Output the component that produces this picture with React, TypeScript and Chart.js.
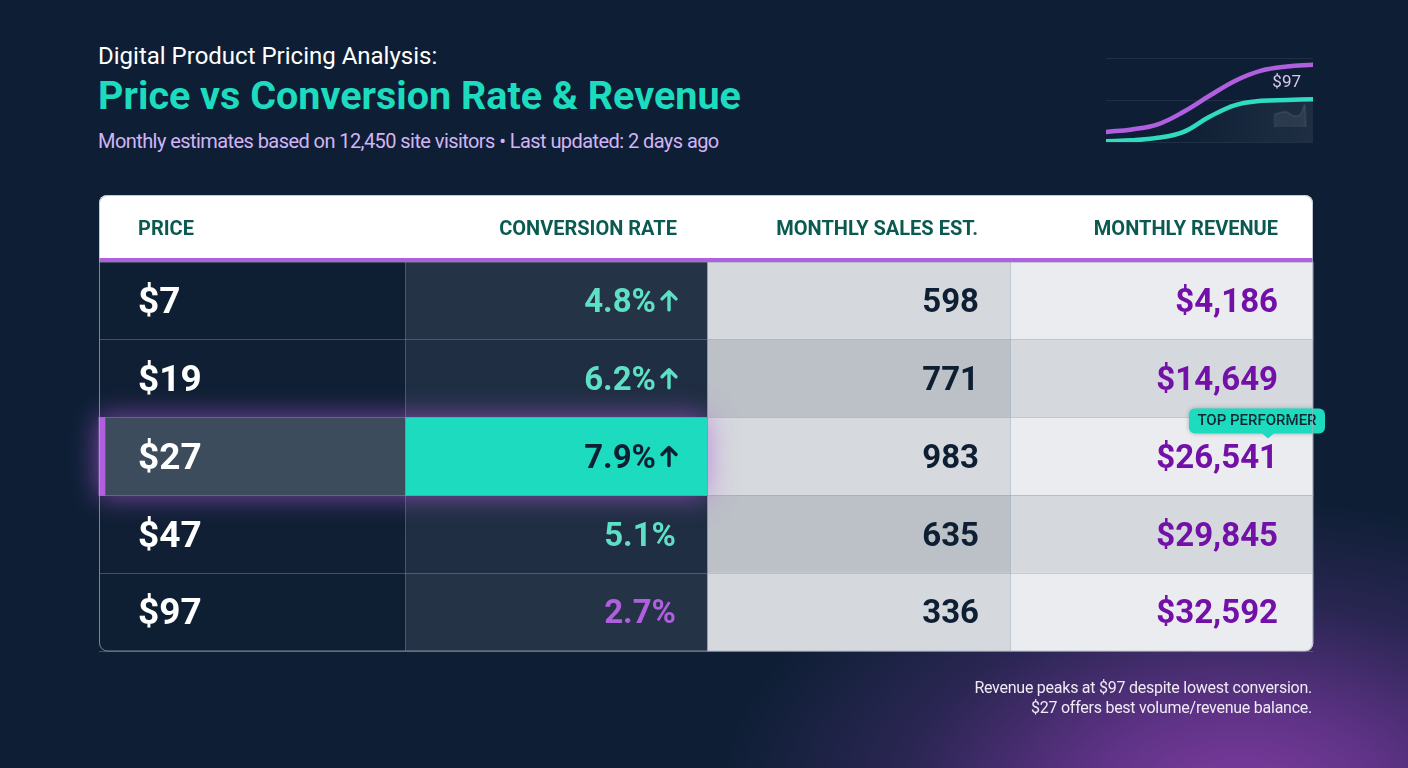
import React, { useEffect, useRef } from "react";
import { Chart, registerables } from "chart.js";

Chart.register(...registerables);

const HEADERS = ["PRICE", "CONVERSION RATE", "MONTHLY SALES EST.", "MONTHLY REVENUE"];
const PRICES = ["$7", "$19", "$27", "$47", "$97"];
const CONVERSION = [4.8, 6.2, 7.9, 5.1, 2.7];
const TREND_UP = [true, true, true, false, false];
const SALES = [598, 771, 983, 635, 336];
const REVENUE = [4186, 14649, 26541, 29845, 32592];
const COLUMN_EDGES = [0, 306, 608, 911, 1214];
const HIGHLIGHT_ROW = 2;
const TAG_TEXT = "TOP PERFORMER";

const SPARK_X = [0, 12.5, 25, 37.5, 50, 62.5, 75, 87.5, 100];
const SPARK_REVENUE = [12, 15, 21, 36, 55, 73, 85, 90, 92];
const SPARK_CONVERSION = [1, 2, 5, 12, 30, 44, 49, 50, 51];
const SPARK_LABEL = "$97";
const GHOST_X = [81.5, 81.5, 84, 87, 91, 94, 96, 96.5];
const GHOST_Y = [18, 32, 35, 36, 31, 33, 44, 18];

const PURPLE = "#b05fdf";
const TEAL = "#1ddbbe";
const NAVY = "#0e1f33";
const COL1 = ["#0e1f33", "#101f34", "#3c4c5c", "#101f34", "#0e1f33"];
const COL2 = ["#243446", "#1f2e42", TEAL, "#1f2e42", "#243446"];
const COL3 = ["#d5d8dd", "#bcc0c7", "#d6d9dd", "#bcc0c7", "#d5d8dd"];
const COL4 = ["#ebecef", "#d5d8dd", "#ebecef", "#d5d8dd", "#ebecef"];
const CONV_COLORS = ["#5de0c5", "#5de0c5", "#0e1f33", "#5de0c5", "#b05fdf"];

const cell = (col: number, only?: number) =>
  PRICES.map((_, r) => (only === undefined || only === r ? [COLUMN_EDGES[col], COLUMN_EDGES[col + 1]] : null));

const tablePlugin = {
  id: "table",
  beforeDatasetDraw(chart: any, args: any) {
    if (chart.data.datasets[args.index].glow) {
      chart.ctx.shadowColor = "rgba(176,95,223,0.7)";
      chart.ctx.shadowBlur = 28;
    }
  },
  afterDatasetDraw(chart: any) {
    chart.ctx.shadowColor = "transparent";
    chart.ctx.shadowBlur = 0;
  },
  beforeDatasetsDraw(chart: any) {
    const { ctx, chartArea: a } = chart;
    ctx.save();
    ctx.fillStyle = "#ffffff";
    ctx.beginPath();
    ctx.roundRect(a.left, 195, a.right - a.left, 65, [8, 8, 0, 0]);
    ctx.fill();
    ctx.restore();
  },
  afterDatasetsDraw(chart: any) {
    const { ctx, chartArea: a, scales } = chart;
    const x = scales.x;
    const y = scales.y;
    ctx.save();
    ctx.fillStyle = PURPLE;
    ctx.fillRect(a.left, 258, a.right - a.left, 4);

    ctx.textBaseline = "middle";
    ctx.font = "700 20px Roboto";
    ctx.fillStyle = "#0b5a50";
    ctx.textAlign = "left";
    ctx.fillText(HEADERS[0], x.getPixelForValue(COLUMN_EDGES[0]) + 39, 229.5);
    ctx.textAlign = "right";
    ctx.fillText(HEADERS[1], x.getPixelForValue(COLUMN_EDGES[2]) - 30, 229.5);
    ctx.fillText(HEADERS[2], x.getPixelForValue(COLUMN_EDGES[3]) - 32, 229.5);
    ctx.fillText(HEADERS[3], x.getPixelForValue(COLUMN_EDGES[4]) - 35, 229.5);

    ctx.font = "700 33px Roboto";
    PRICES.forEach((_, r) => {
      const py = y.getPixelForValue(r) + 3;
      const color = CONV_COLORS[r];
      ctx.fillStyle = color;
      const colEnd = x.getPixelForValue(COLUMN_EDGES[2]);
      const up = TREND_UP[r];
      ctx.fillText(CONVERSION[r].toFixed(1) + "%", colEnd - (up ? 51 : 31), py);
      if (up) {
        const ax = colEnd - 38;
        const ay = py - 3;
        ctx.strokeStyle = color;
        ctx.lineWidth = 3.4;
        ctx.lineCap = "round";
        ctx.lineJoin = "round";
        ctx.beginPath();
        ctx.moveTo(ax, ay + 9);
        ctx.lineTo(ax, ay - 9);
        ctx.moveTo(ax - 7, ay - 2);
        ctx.lineTo(ax, ay - 9);
        ctx.lineTo(ax + 7, ay - 2);
        ctx.stroke();
      }
      ctx.fillStyle = NAVY;
      ctx.fillText(String(SALES[r]), x.getPixelForValue(COLUMN_EDGES[3]) - 31, py);
      ctx.fillStyle = "#7210a8";
      ctx.fillText("$" + REVENUE[r].toLocaleString("en-US"), x.getPixelForValue(COLUMN_EDGES[4]) - 35, py);
    });

    // top performer tag
    const tagRight = x.getPixelForValue(COLUMN_EDGES[4]) + 12;
    const tagY = y.getPixelForValue(HIGHLIGHT_ROW) - 48;
    ctx.save();
    ctx.shadowColor = "rgba(20,60,70,0.35)";
    ctx.shadowBlur = 4;
    ctx.fillStyle = TEAL;
    ctx.beginPath();
    ctx.roundRect(tagRight - 136, tagY, 136, 25, 6);
    ctx.fill();
    ctx.restore();
    ctx.fillStyle = TEAL;
    ctx.beginPath();
    ctx.moveTo(tagRight - 64, tagY + 24);
    ctx.lineTo(tagRight - 57, tagY + 30);
    ctx.lineTo(tagRight - 50, tagY + 24);
    ctx.fill();
    ctx.fillStyle = "#0a2530";
    ctx.font = "500 15px Roboto";
    ctx.textAlign = "center";
    ctx.fillText(TAG_TEXT, tagRight - 68, tagY + 13);

    // table outline
    ctx.strokeStyle = "rgba(165,178,192,0.7)";
    ctx.lineWidth = 1;
    ctx.beginPath();
    ctx.roundRect(a.left + 0.5, 195.5, a.right - a.left - 1, a.bottom - 195.5, 8);
    ctx.stroke();
    ctx.restore();
  },
};

const sparkPlugin = {
  id: "sparkLabel",
  afterDatasetsDraw(chart: any) {
    const { ctx, scales } = chart;
    ctx.save();
    ctx.font = "400 17px Roboto";
    ctx.fillStyle = "#d8c8f0";
    ctx.textAlign = "right";
    ctx.textBaseline = "middle";
    ctx.fillText(SPARK_LABEL, scales.x.getPixelForValue(100) - 12, scales.y.getPixelForValue(70));
    ctx.restore();
  },
};

export default function App() {
  const tableRef = useRef<HTMLCanvasElement>(null);
  const sparkRef = useRef<HTMLCanvasElement>(null);

  useEffect(() => {
    const barBase = { grouped: false, barPercentage: 1, categoryPercentage: 1, borderSkipped: false, clip: false };
    const table = new Chart(tableRef.current!, {
      type: "bar",
      data: {
        labels: PRICES,
        datasets: [
          { ...barBase, label: "col1", data: cell(0), backgroundColor: COL1, order: 5,
            borderRadius: (c: any) => (c.dataIndex === 4 ? { bottomLeft: 8 } : 0) },
          { ...barBase, label: "col2", data: cell(1), backgroundColor: COL2, order: 5 },
          { ...barBase, label: "col3", data: cell(2), backgroundColor: COL3, order: 5 },
          { ...barBase, label: "col4", data: cell(3), backgroundColor: COL4, order: 5,
            borderRadius: (c: any) => (c.dataIndex === 4 ? { bottomRight: 8 } : 0) },
          { ...barBase, label: "glow", glow: true, order: 3, backgroundColor: "#3c4c5c",
            data: PRICES.map((_, r) => (r === HIGHLIGHT_ROW ? [COLUMN_EDGES[0], COLUMN_EDGES[2]] : null)) },
          { ...barBase, label: "hl1", data: cell(0, HIGHLIGHT_ROW), backgroundColor: COL1, order: 2 },
          { ...barBase, label: "hl2", data: cell(1, HIGHLIGHT_ROW), backgroundColor: COL2, order: 2 },
          { ...barBase, label: "accent", order: 1, backgroundColor: PURPLE,
            data: PRICES.map((_, r) => (r === HIGHLIGHT_ROW ? [COLUMN_EDGES[0], COLUMN_EDGES[0] + 6] : null)) },
        ] as any,
      },
      options: {
        indexAxis: "y",
        animation: false,
        responsive: false,
        devicePixelRatio: 1,
        layout: { padding: { left: 99, right: 95, top: 262, bottom: 117 } },
        plugins: { legend: { display: false }, tooltip: { enabled: false } },
        scales: {
          x: {
            min: COLUMN_EDGES[0],
            max: COLUMN_EDGES[4],
            afterBuildTicks: (s: any) => {
              s.ticks = COLUMN_EDGES.slice(1, 4).map((value) => ({ value }));
            },
            ticks: { display: false },
            border: { display: false },
            grid: { z: 1, drawTicks: false, color: "rgba(140,155,170,0.4)" },
          },
          y: {
            afterFit: (s: any) => { s.width = 0; },
            border: { display: false },
            grid: { z: 1, drawTicks: false, offset: true, color: "rgba(140,155,170,0.4)" },
            ticks: {
              z: 2,
              mirror: true,
              padding: 39,
              labelOffset: 3,
              color: "#ffffff",
              font: { family: "Roboto", size: 37, weight: "bold" },
            },
          },
        },
      } as any,
      plugins: [tablePlugin],
    });

    const spark = new Chart(sparkRef.current!, {
      type: "line",
      data: {
        datasets: [
          {
            label: "ghost",
            data: GHOST_X.map((x, i) => ({ x, y: GHOST_Y[i] })),
            borderColor: "rgba(255,255,255,0.07)",
            borderWidth: 2,
            backgroundColor: "rgba(255,255,255,0.07)",
            fill: { value: 18 },
            pointRadius: 0,
            tension: 0.3,
          },
          {
            label: "Revenue",
            data: SPARK_X.map((x, i) => ({ x, y: SPARK_REVENUE[i] })),
            borderColor: PURPLE,
            borderWidth: 4.5,
            pointRadius: 0,
            tension: 0.4,
            borderCapStyle: "round",
          },
          {
            label: "Conversion",
            data: SPARK_X.map((x, i) => ({ x, y: SPARK_CONVERSION[i] })),
            borderColor: "#2fdcc0",
            borderWidth: 4.5,
            pointRadius: 0,
            backgroundColor: (c: any) => {
              const a = c.chart.chartArea;
              if (!a) return "rgba(255,255,255,0.04)";
              const g = c.chart.ctx.createLinearGradient(a.left, 0, a.right, 0);
              g.addColorStop(0.3, "rgba(255,255,255,0)");
              g.addColorStop(1, "rgba(255,255,255,0.07)");
              return g;
            },
            fill: "origin",
            tension: 0.4,
            borderCapStyle: "round",
          },
        ] as any,
      },
      options: {
        animation: false,
        responsive: false,
        devicePixelRatio: 1,
        layout: { padding: { left: 0, right: 0, top: 2, bottom: 2 } },
        plugins: { legend: { display: false }, tooltip: { enabled: false } },
        scales: {
          x: { type: "linear", min: 0, max: 100, display: false },
          y: {
            min: 0,
            max: 100,
            afterFit: (s: any) => { s.width = 0; },
            ticks: { display: false, stepSize: 50 },
            border: { display: false },
            grid: { drawTicks: false, color: "rgba(255,255,255,0.08)" },
          },
        },
      } as any,
      plugins: [sparkPlugin],
    });

    return () => {
      table.destroy();
      spark.destroy();
    };
  }, []);

  const abs: React.CSSProperties = { position: "absolute", fontFamily: "Roboto", whiteSpace: "nowrap", lineHeight: 1 };

  return (
    <div
      style={{
        position: "fixed",
        left: 0,
        top: 0,
        width: 1408,
        height: 768,
        overflow: "hidden",
        background:
          "radial-gradient(ellipse 520px 300px at 1240px 800px, rgba(128,60,160,1) 0%, rgba(108,54,148,0.85) 30%, rgba(66,44,108,0.55) 65%, rgba(14,31,53,0) 100%), #0e1f35",
      }}
    >
      <div style={{ ...abs, left: 98, top: 44, fontSize: 24, color: "#ffffff" }}>
        Digital Product Pricing Analysis:
      </div>
      <div style={{ ...abs, left: 98, top: 76, fontSize: 39.5, fontWeight: 700, color: TEAL }}>
        Price vs Conversion Rate &amp; Revenue
      </div>
      <div style={{ ...abs, left: 98, top: 131, fontSize: 20, color: "#d2b4f5", letterSpacing: -0.57 }}>
        Monthly estimates based on 12,450 site visitors • Last updated: 2 days ago
      </div>
      <canvas ref={tableRef} width={1408} height={768} style={{ position: "absolute", left: 0, top: 0 }} />
      <canvas ref={sparkRef} width={207} height={88} style={{ position: "absolute", left: 1106, top: 56 }} />
      <div style={{ ...abs, right: 96, top: 678, fontSize: 16, color: "#efeaf5", textAlign: "right", lineHeight: "20px", letterSpacing: -0.25 }}>
        Revenue peaks at $97 despite lowest conversion.
        <br />
        $27 offers best volume/revenue balance.
      </div>
    </div>
  );
}
